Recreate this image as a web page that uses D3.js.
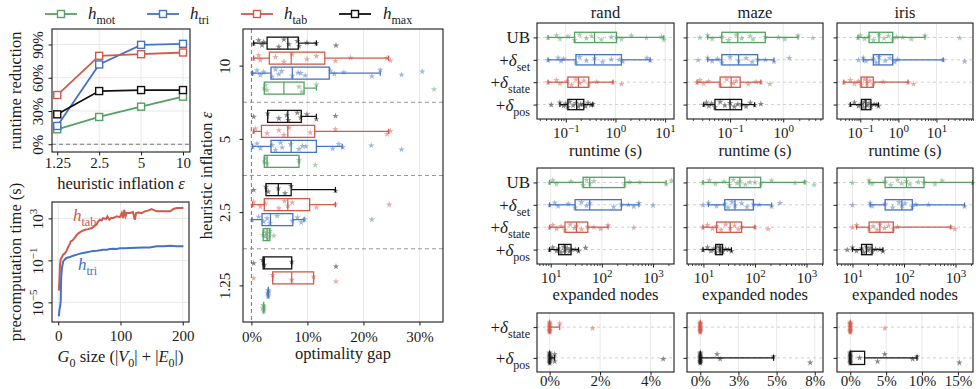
<!DOCTYPE html>
<html><head><meta charset="utf-8">
<script src="https://cdn.jsdelivr.net/npm/d3@7"></script>
<style>
body{margin:0;background:#fff}
svg text{font-family:"Liberation Serif","DejaVu Serif",serif !important}
</style></head><body>
<svg id="c" width="980" height="389"></svg>
<script>
// ---------------- DATA ----------------
const epsTicks = [1.25, 2.5, 5, 10];
const redMot = [13.5, 24.6, 33.9, 42.9];
const redTri = [16.5, 72.0, 89.7, 90.6];
const redTab = [44.4, 79.8, 81.3, 82.8];
const redMax = [27.0, 48.0, 48.9, 48.9];

const g0Tab = [1,2,3,4,8,11,13,16,19,20,23,25,28,30,33,37,43,48,54,59,62,64,67,70,72,77,79,82,85,88,94,99,102,104,106,108,110,115,120,123,125,129,134,139,145,150,158,169,180,185,190,201];
const timeTab = [1.3e-4,1.6e-3,0.05,0.13,0.35,0.5,0.72,1.9,3.9,6.5,8.1,11,19,28,40,58,83,95,120,200,290,510,740,650,1070,870,1550,740,1070,1070,1550,1300,3200,1070,6600,1550,3200,3200,4000,740,3200,3700,3200,4700,5800,7800,4700,4700,4700,7800,9800,9800];
const g0Tri = [1,2,3,4,4.3,4.8,6,8,11,13,19,24,30,35,40,46,51,56,62,67,72,78,83,88,94,99,107,115,126,137,147,158,169,180,190,201];
const timeTri = [4.7e-7,2.0e-6,4.2e-6,1.3e-5,1.6e-4,3.0e-3,0.019,0.081,0.13,0.17,0.21,0.28,0.35,0.44,0.5,0.59,0.68,0.78,0.83,0.91,1.05,1.05,1.2,1.3,1.2,1.4,1.4,1.5,1.6,1.7,1.7,2.2,2.2,2.5,2.2,2.2];

const epsCats = ["10", "5", "2.5", "1.25"];
const heurOrder = ["max", "tab", "tri", "mot"];
// optimality gap (%) box stats per heuristic: [lo, q1, median, q3, hi]
const gapStats10 = [[0.4,2.8,6.5,8.4,11.6],[0.4,3.2,7.1,13.1,24.5],[0.2,3.5,7.3,13.9,23.0],[2.3,2.3,5.8,9.4,11.6]];
const gapPts10 = [[0.4,1.3,1.9,2.2,4.9,5.8,6.7,8.2,8.5,9.9,11.6,15.1],[0.4,1.3,1.6,4.3,5.8,7.3,9.9,11.6,15.0,17.7,24.2,24.8],[0.24,1.0,1.6,2.2,3.7,4.3,4.9,5.4,7.3,8.3,8.8,9.6,14.1,14.8,16.5,21.5,23.0,26.8,30.5],[2.3,2.5,2.8,8.5,9.0,11.6,32.6]];
const gapStats5 = [[2.9,2.9,6.5,8.9,11.6],[0.4,1.8,6.5,11.3,24.5],[0.2,3.5,7.1,11.6,16.2],[2.3,2.3,2.8,8.5,8.5]];
const gapPts5 = [[0.4,2.9,4.9,6.3,6.6,8.2,8.8,9.9,11.6,15.0],[0.4,0.7,2.8,4.9,5.8,6.7,10.5,15.0,24.2,24.8],[0.24,1.0,1.6,3.7,4.3,5.2,5.5,7.0,8.5,9.1,9.7,14.5,15.6,16.3,21.4,26.8],[2.3,2.5,2.8,8.5,11.4]];
const gapStats25 = [[2.6,2.6,4.8,7.1,15.0],[0.2,2.3,6.5,10.4,15.0],[0.1,1.9,3.4,7.4,9.4],[2.1,2.1,2.8,3.3,3.3]];
const gapPts25 = [[0.4,2.6,3.0,4.8,6.0,7.1,15.0],[0.24,0.4,1.6,2.5,4.9,5.9,6.5,7.3,11.6,15.0,24.6],[0.12,1.3,2.2,2.8,3.3,4.6,7.3,8.2,8.9,9.5,21.5],[2.1,2.3,2.5,2.8,3.0,3.3,4.0]];
const gapStats125 = [[2.1,2.1,2.3,7.2,7.2],[3.8,3.8,7.2,11.1,11.1],[3.0,3.0,3.0,3.0,3.0],[2.2,2.2,2.2,2.2,2.2]];
const gapPts125 = [[0.4,2.0,2.3,7.2,15.1],[0.4,3.8,7.2,11.1,15.1],[2.9,3.0,3.0,3.1,3.0],[2.0,2.1,2.2,2.3,2.2]];

const methods = ["UB", "set", "state", "pos"];
const datasets = ["rand", "maze", "iris"];
// runtime (s)
const runRandStats = [[0.044,0.15,0.38,1.05,9.4],[0.044,0.16,0.38,1.32,5.0],[0.044,0.11,0.18,0.29,0.89],[0.076,0.11,0.165,0.23,0.35]];
const runRandPts = [[0.044,0.065,0.076,0.11,0.15,0.19,0.26,0.33,0.52,0.83,1.05,1.32,2.1,4.2,8.5,9.4],[0.044,0.07,0.08,0.09,0.16,0.19,0.26,0.38,0.55,0.83,1.2,1.4,4.3,5.0],[0.044,0.065,0.076,0.105,0.13,0.16,0.19,0.23,0.29,0.42,0.89,1.32],[0.051,0.076,0.09,0.1,0.11,0.12,0.14,0.16,0.18,0.2,0.22,0.25,0.28,0.32,0.35]];
const runMazeStats = [[0.038,0.07,0.14,0.46,1.9],[0.038,0.07,0.145,0.33,0.67],[0.024,0.065,0.105,0.155,0.38],[0.032,0.052,0.1,0.165,0.29]];
const runMazePts = [[0.027,0.038,0.046,0.07,0.093,0.13,0.165,0.24,0.27,0.46,0.81,1.07,1.9,3.6],[0.025,0.038,0.046,0.058,0.07,0.1,0.145,0.2,0.26,0.33,0.46,0.67,1.3],[0.024,0.027,0.032,0.039,0.065,0.087,0.115,0.13,0.22,0.31,0.38,0.56],[0.032,0.036,0.04,0.045,0.052,0.065,0.08,0.1,0.12,0.14,0.165,0.2,0.24,0.29,0.38]];
const runIrisStats = [[0.087,0.17,0.31,0.71,5.0],[0.12,0.22,0.31,0.71,15],[0.037,0.105,0.15,0.22,1.8],[0.055,0.107,0.14,0.19,0.3]];
const runIrisPts = [[0.087,0.1,0.13,0.17,0.22,0.31,0.42,0.55,0.71,0.9,1.3,2.2,5.0,41],[0.09,0.12,0.14,0.22,0.26,0.31,0.45,0.6,0.8,0.95,15,55],[0.037,0.055,0.07,0.09,0.105,0.13,0.15,0.18,0.22,0.4,1.8,2.5],[0.055,0.07,0.09,0.11,0.12,0.13,0.15,0.17,0.19,0.23,0.27,0.3]];
// expanded nodes
const nodRandStats = [[9.5,43,58,280,1800],[9.5,30,58,240,530],[9.5,19,32,53,132],[9.5,14.3,19,25,35]];
const nodRandPts = [[9.5,11,13,25,43,50,58,70,280,350,550,1800,2300],[9.5,12,14,22,30,40,50,58,170,240,330,420,530,1000],[9.5,11,13,16,19,24,29,32,40,53,70,95,132,420],[9.5,11,13,14.3,16,18,19,21,23,25,30,35,48]];
const nodMazeStats = [[9.8,32,51,129,930],[12.5,26,41,93,210],[9.8,18,33,55,100],[9.8,17.3,21,23.5,35]];
const nodMazePts = [[9.8,13,17,25,32,38,45,51,65,80,100,129,210,600,930,1400],[9.8,12.5,18,26,30,36,41,55,70,93,120,210,305],[9.8,12,15,18,22,27,33,40,48,55,100,180],[9.8,12,14,16,17.3,19,21,22,23.5,27,31,35]];
const nodIrisStats = [[21,43,112,245,2150],[22,43,91,145,1500],[12,21,34,62,810],[10,15,18.6,24,39]];
const nodIrisPts = [[10,21,24,43,55,75,90,112,130,190,245,400,550,2150],[10,22,24,43,60,80,91,105,145,170,300,1500],[10,12,21,25,30,34,42,50,62,75,810,970],[7.9,10,12,15,16.5,18.6,20,22,24,28,34,39]];
// optimality gap (%), only +δstate and +δpos
const gapMethods = ["state", "pos"];
const gRandStats = [[0,0,0,0,0.4],[0,0,0,0,0.2]];
const gRandPts = [[0,0,0,0,0,0,0,0,0,0,0,0,0.4,1.7],[0,0,0,0,0,0,0,0,0,0,0.1,0.2,0.2,4.5]];
const gMazeStats = [[0,0,0,0,0],[0,0,0,0,4.8]];
const gMazePts = [[0,0,0,0,0,0,0,0,0,0,0,0,0,0],[0,0,0,0,0,0,0,0,0,0,0,0,1.1,1.3,4.8,7.2]];
const gIrisStats = [[0,0,0,0,0],[0,0,0,2.0,9.3]];
const gIrisPts = [[0,0,0,0,0,0,0,0,0,0,0,0,0,4.8],[0,0,0,0,0,0,0,0,0,0,1.3,3.8,4.8,8.7,9.3,15.2]];

// ---------------- STYLE ----------------
const COL = {mot:"#55a064", tri:"#4472c4", tab:"#d05a4b", max:"#111111",
             UB:"#55a064", set:"#4472c4", state:"#d05a4b", pos:"#111111"};
const INK = "#1a1a1a", GRID = "#e8e8e8";
const FS = 15, FSL = 16.5, FSR = 17;
const JIT = [0.1,-0.7,0.5,-0.3,0.9,-0.9,0.3,-0.5,0.7,-0.1,0.0,0.6,-0.6,0.2,-0.2,0.8,-0.8,0.4,-0.4];

const svg = d3.select("#c");

function rich(sel, parts, fs) {
  let shift = 0;
  parts.forEach(p => {
    const ts = sel.append("tspan").text(p.t);
    const target = p.sub ? fs * 0.3 : p.sup ? -fs * 0.42 : 0;
    if (target !== shift) { ts.attr("dy", target - shift); shift = target; }
    if (p.sub || p.sup) ts.attr("font-size", Math.round(fs * 0.72));
    if (p.it) ts.attr("font-style", "italic");
  });
}
function txt(g, x, y, parts, fs, anchor, rot) {
  const t = g.append("text").attr("fill", INK).attr("font-size", fs).attr("text-anchor", anchor || "middle");
  if (rot) t.attr("transform", `translate(${x},${y}) rotate(${rot})`);
  else t.attr("x", x).attr("y", y);
  rich(t, parts, fs);
  return t;
}
function frame(g, x0, y0, x1, y1) {
  g.append("rect").attr("x", x0).attr("y", y0).attr("width", x1 - x0).attr("height", y1 - y0)
    .attr("fill", "none").attr("stroke", INK).attr("stroke-width", 1.1);
}
function styleAxis(ax) {
  ax.select(".domain").remove();
  ax.selectAll(".tick text").remove();
  ax.selectAll(".tick line").attr("stroke", INK).attr("stroke-width", 1);
}
function bottomAxis(g, x, y0, vals, fmt, labDy, minors) {
  if (minors) {
    const m = g.append("g").attr("transform", `translate(0,${y0})`)
      .call(d3.axisBottom(x).tickValues(minors).tickSize(2).tickSizeOuter(0).tickFormat(""));
    styleAxis(m); m.selectAll(".tick line").attr("stroke-width", 0.8);
  }
  const ax = g.append("g").attr("transform", `translate(0,${y0})`)
    .call(d3.axisBottom(x).tickValues(vals).tickSize(3.5).tickSizeOuter(0).tickFormat(""));
  styleAxis(ax);
  ax.selectAll(".tick").each(function(v) { txt(d3.select(this), 0, labDy, fmt(v), FS, "middle"); });
}
function leftAxis(g, y, x0, vals, fmt, labDx, rot, fs) {
  const ax = g.append("g").attr("transform", `translate(${x0},0)`)
    .call(d3.axisLeft(y).tickValues(vals).tickSize(3.5).tickSizeOuter(0).tickFormat(""));
  styleAxis(ax);
  if (fmt) ax.selectAll(".tick").each(function(v) {
    if (rot) txt(d3.select(this), -labDx, 0, fmt(v), fs || FS, "middle", -90);
    else txt(d3.select(this), -labDx, 5.5, fmt(v), fs || FS, "end");
  });
}
const pow10 = v => { const e = Math.round(Math.log10(v)); return [{t:"10"}, {t:(e < 0 ? "−" : "") + Math.abs(e), sup:true}]; };
const pct = v => [{t: Math.round(v) + "%"}];
function logMinors(dom) {
  const out = [];
  for (let k = Math.floor(Math.log10(dom[0])); k <= Math.ceil(Math.log10(dom[1])); k++)
    for (let m = 2; m <= 9; m++) { const v = m * Math.pow(10, k); if (v >= dom[0] && v <= dom[1]) out.push(v); }
  return out;
}
function boxRow(g, x, yc, h, s, pts, color, amp) {
  const [lo, q1, med, q3, hi] = s;
  const cap = h * 0.45;
  const ln = (x1, y1, x2, y2) => g.append("line").attr("x1", x1).attr("y1", y1).attr("x2", x2).attr("y2", y2)
    .attr("stroke", color).attr("stroke-width", 1.2);
  ln(x(lo), yc, x(q1), yc); ln(x(q3), yc, x(hi), yc);
  ln(x(lo), yc - cap / 2, x(lo), yc + cap / 2); ln(x(hi), yc - cap / 2, x(hi), yc + cap / 2);
  g.append("rect").attr("x", x(q1)).attr("y", yc - h / 2).attr("width", Math.max(0, x(q3) - x(q1))).attr("height", h)
    .attr("fill", "none").attr("stroke", color).attr("stroke-width", 1.3);
  ln(x(med), yc - h / 2, x(med), yc + h / 2);
  const star = d3.symbol().type(d3.symbolStar).size(13);
  g.selectAll(null).data(pts).enter().append("path").attr("d", star)
    .attr("transform", (d, i) => `translate(${x(d)},${yc + JIT[i % JIT.length] * amp})`)
    .attr("fill", color).attr("fill-opacity", 0.5);
}

// ---------------- LEGEND ----------------
const legItems = [["mot", 45, 77, 88], ["tri", 147, 179, 190], ["tab", 241, 273, 284], ["max", 339, 371, 383]];
const leg = svg.append("g");
legItems.forEach(([k, a, b, tx]) => {
  leg.append("line").attr("x1", a).attr("x2", b).attr("y1", 14).attr("y2", 14).attr("stroke", COL[k]).attr("stroke-width", 1.8);
  leg.append("rect").attr("x", (a + b) / 2 - 3.5).attr("y", 10.5).attr("width", 7).attr("height", 7)
    .attr("fill", "#fff").attr("stroke", COL[k]).attr("stroke-width", 1.4);
  txt(leg, tx, 19, [{t:"h", it:true}, {t:k, sub:true}], 17, "start");
});

// ---------------- PANEL 1: runtime reduction ----------------
{
  const g = svg.append("g");
  const L = 52, R = 190, T = 29, B = 152;
  const x = d3.scaleLog().base(2).domain([1.146, 11.23]).range([L, R]);
  const y = d3.scaleLinear().domain([-7, 104]).range([B, T]);
  const yt = [0, 30, 60, 90];
  epsTicks.forEach(v => g.append("line").attr("x1", x(v)).attr("x2", x(v)).attr("y1", T).attr("y2", B).attr("stroke", GRID));
  yt.forEach(v => g.append("line").attr("x1", L).attr("x2", R).attr("y1", y(v)).attr("y2", y(v)).attr("stroke", GRID));
  g.append("line").attr("x1", L).attr("x2", R).attr("y1", y(0)).attr("y2", y(0)).attr("stroke", "#777").attr("stroke-dasharray", "4,3").attr("stroke-width", 1);
  const series = [["mot", redMot], ["tri", redTri], ["tab", redTab], ["max", redMax]];
  series.forEach(([k, vals]) => {
    const pts = epsTicks.map((e, i) => [e, vals[i]]);
    g.append("path").datum(pts).attr("d", d3.line().x(d => x(d[0])).y(d => y(d[1])))
      .attr("fill", "none").attr("stroke", COL[k]).attr("stroke-width", 1.8);
    g.selectAll(null).data(pts).enter().append("rect")
      .attr("x", d => x(d[0]) - 3.5).attr("y", d => y(d[1]) - 3.5).attr("width", 7).attr("height", 7)
      .attr("fill", "#fff").attr("stroke", COL[k]).attr("stroke-width", 1.4);
  });
  frame(g, L, T, R, B);
  bottomAxis(g, x, B, epsTicks, v => [{t: String(v)}], 16);
  leftAxis(g, y, L, yt, pct, 9, true);
  txt(g, 21, (T + B) / 2, [{t:"runtime reduction"}], FSL, "middle", -90);
  txt(g, (L + R) / 2, 189, [{t:"heuristic inflation "}, {t:"ε", it:true}], FSL, "middle");
}

// ---------------- PANEL 2: precomputation time ----------------
{
  const g = svg.append("g");
  const L = 52, R = 189, T = 202, B = 322;
  const x = d3.scaleLinear().domain([-10, 210]).range([L, R]);
  const y = d3.scaleLog().domain([Math.pow(10, -6.87), Math.pow(10, 4.56)]).range([B, T]);
  const xt = [0, 100, 200], yt = [1e-5, 1e-1, 1e3];
  xt.forEach(v => g.append("line").attr("x1", x(v)).attr("x2", x(v)).attr("y1", T).attr("y2", B).attr("stroke", GRID));
  yt.forEach(v => g.append("line").attr("x1", L).attr("x2", R).attr("y1", y(v)).attr("y2", y(v)).attr("stroke", GRID));
  const line = d3.line().x(d => x(d[0])).y(d => y(d[1]));
  g.append("path").datum(g0Tab.map((v, i) => [v, timeTab[i]])).attr("d", line)
    .attr("fill", "none").attr("stroke", COL.tab).attr("stroke-width", 2);
  g.append("path").datum(g0Tri.map((v, i) => [v, timeTri[i]])).attr("d", line)
    .attr("fill", "none").attr("stroke", COL.tri).attr("stroke-width", 2);
  txt(g, 73, 221, [{t:"h", it:true}, {t:"tab", sub:true}], 17, "start").attr("fill", COL.tab);
  txt(g, 78, 270, [{t:"h", it:true}, {t:"tri", sub:true}], 17, "start").attr("fill", COL.tri);
  frame(g, L, T, R, B);
  bottomAxis(g, x, B, xt, v => [{t: String(v)}], 19);
  leftAxis(g, y, L, yt, pow10, 9, true);
  txt(g, 21, (T + B) / 2, [{t:"precomputation time (s)"}], FSL, "middle", -90);
  txt(g, (L + R) / 2, 362, [{t:"G", it:true}, {t:"0", sub:true}, {t:" size (|"}, {t:"V", it:true}, {t:"0", sub:true},
    {t:"| + |"}, {t:"E", it:true}, {t:"0", sub:true}, {t:"|)"}], FSL, "middle");
}

// ---------------- PANEL 3: optimality gap by inflation ----------------
{
  const g = svg.append("g");
  const L = 243, R = 443, T = 29, B = 322;
  const x = d3.scaleLinear().domain([-1.5, 34.2]).range([L, R]);
  const y = d3.scaleBand().domain(epsCats).range([T, B]);
  const bw = y.bandwidth();
  const sub = d3.scalePoint().domain(heurOrder).range([-0.307 * bw, 0.307 * bw]);
  const xt = [0, 10, 20, 30];
  [10, 20, 30].forEach(v => g.append("line").attr("x1", x(v)).attr("x2", x(v)).attr("y1", T).attr("y2", B).attr("stroke", GRID));
  g.append("line").attr("x1", x(0)).attr("x2", x(0)).attr("y1", T).attr("y2", B).attr("stroke", "#777").attr("stroke-dasharray", "4,3");
  epsCats.slice(1).forEach(c => g.append("line").attr("x1", L).attr("x2", R).attr("y1", y(c)).attr("y2", y(c))
    .attr("stroke", "#999").attr("stroke-dasharray", "4,3"));
  const stats = {"10": gapStats10, "5": gapStats5, "2.5": gapStats25, "1.25": gapStats125};
  const pts = {"10": gapPts10, "5": gapPts5, "2.5": gapPts25, "1.25": gapPts125};
  epsCats.forEach(c => heurOrder.forEach((h, i) => {
    const yc = y(c) + bw / 2 + sub(h);
    boxRow(g, x, yc, 12, stats[c][i], pts[c][i], COL[h], 4);
  }));
  frame(g, L, T, R, B);
  bottomAxis(g, x, B, xt, pct, 20);
  const yc = d3.scalePoint().domain(epsCats).range([T + bw / 2, B - bw / 2]);
  leftAxis(g, yc, L, epsCats, v => [{t: v}], 13, true);
  txt(g, 212, (T + B) / 2, [{t:"heuristic inflation "}, {t:"ε", it:true}], FSL, "middle", -90);
  txt(g, (L + R) / 2, 359, [{t:"optimality gap"}], FSL, "middle");
}

// ---------------- RIGHT GRID ----------------
const colX = [[537, 674], [687, 823], [837, 973]];
const rowY = [[23, 119], [168, 264], [313, 372]];
const methodLabel = m => m === "UB" ? [{t:"UB"}] : [{t:"+"}, {t:"δ", it:true}, {t:m, sub:true}];
const rowDefs = [
  {kind:"log", cats:methods, label:"runtime (s)",
   doms:[[0.0263, 15.1], [0.0155, 5.6], [0.0245, 91]],
   ticks:[[0.1, 1, 10], [0.1, 1], [0.1, 1, 10]],
   stats:[runRandStats, runMazeStats, runIrisStats], pts:[runRandPts, runMazePts, runIrisPts], labY:156},
  {kind:"log", cats:methods, label:"expanded nodes",
   doms:[[5.4, 2570], [4.8, 2090], [5.0, 2190]],
   ticks:[[10, 100, 1000], [10, 100, 1000], [10, 100, 1000]],
   stats:[nodRandStats, nodMazeStats, nodIrisStats], pts:[nodRandPts, nodMazePts, nodIrisPts], labY:300},
  {kind:"lin", cats:gapMethods, label:null,
   doms:[[-0.5, 4.93], [-0.87, 8.04], [-1.85, 17.1]],
   ticks:[[0, 2, 4], [0, 2.5, 5, 7.5], [0, 5, 10, 15]],
   stats:[gRandStats, gMazeStats, gIrisStats], pts:[gRandPts, gMazePts, gIrisPts], labY:null}
];
rowDefs.forEach((rd, ri) => {
  const [T, B] = rowY[ri];
  const n = rd.cats.length;
  const y = d3.scalePoint().domain(rd.cats).range([T, B]).padding(n === 4 ? 0.645 : 0.46);
  const h = y.step() * (n === 4 ? 0.46 : 0.43);
  datasets.forEach((ds, ci) => {
    const [L, R] = colX[ci];
    const g = svg.append("g");
    const x = (rd.kind === "log" ? d3.scaleLog() : d3.scaleLinear()).domain(rd.doms[ci]).range([L, R]);
    rd.ticks[ci].forEach(v => g.append("line").attr("x1", x(v)).attr("x2", x(v)).attr("y1", T).attr("y2", B).attr("stroke", GRID));
    rd.cats.forEach(c => g.append("line").attr("x1", L).attr("x2", R).attr("y1", y(c)).attr("y2", y(c))
      .attr("stroke", "#cfcfcf").attr("stroke-dasharray", "3,3"));
    rd.cats.forEach((c, i) => boxRow(g, x, y(c), h, rd.stats[ci][i], rd.pts[ci][i], COL[c], n === 4 ? 3 : 6));
    frame(g, L, T, R, B);
    bottomAxis(g, x, B, rd.ticks[ci], rd.kind === "log" ? pow10 : pct, rd.kind === "log" ? 19 : 14,
      rd.kind === "log" ? logMinors(rd.doms[ci]) : null);
    leftAxis(g, y, L, rd.cats, ci === 0 ? methodLabel : null, 7, false, FSR);
    if (ri === 0) txt(g, (L + R) / 2, 18, [{t: ds}], FSL, "middle");
    if (rd.label) txt(g, (L + R) / 2, rd.labY, [{t: rd.label}], FSL, "middle");
  });
});
</script>
</body></html>
